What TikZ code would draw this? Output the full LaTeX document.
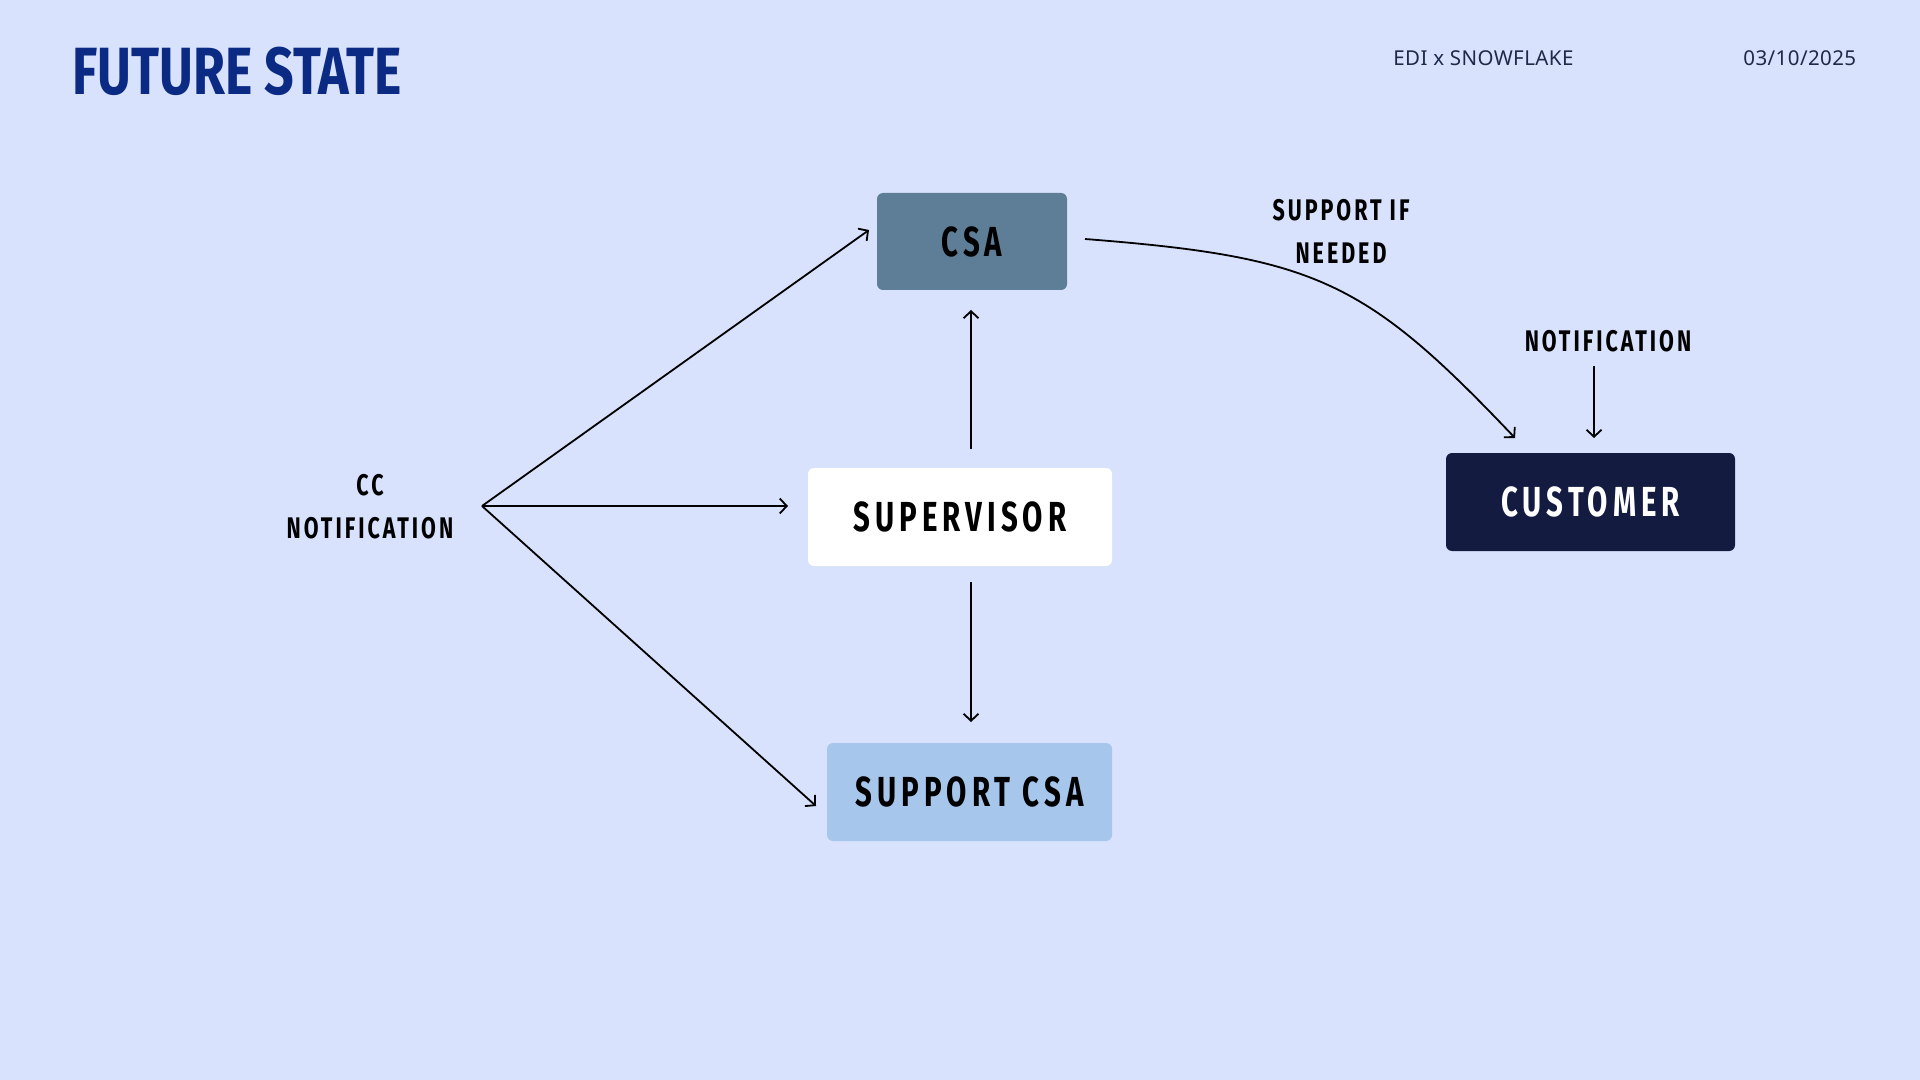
\documentclass[tikz,border=0pt]{standalone}
\usepackage{fontspec}
\usetikzlibrary{arrows.meta}
\newfontfamily\dispfont[FakeStretch=0.7,LetterSpace=12]{Fira Sans}
\newfontfamily\lblfam[FakeStretch=0.72,LetterSpace=10]{Fira Sans}
\newfontfamily\ttlfont[FakeStretch=0.776]{Fira Sans}
\newfontfamily\hdrfont[LetterSpace=2]{Noto Sans}
\newcommand\myboxfont{\dispfont\bfseries\fontsize{21}{25}\selectfont}
\newcommand\mylblfont{\lblfam\bfseries\fontsize{14.9}{21.5}\selectfont}
\definecolor{bgc}{HTML}{D8E2FC}
\definecolor{csac}{HTML}{5E7D96}
\definecolor{supc}{HTML}{A7C6EC}
\definecolor{custc}{HTML}{131B40}
\definecolor{ttlc}{HTML}{0B2A84}
\definecolor{hdrc}{HTML}{1E2A4A}
\begin{document}
\begin{tikzpicture}[x=0.5pt,y=-0.5pt,
  conn/.style={draw=black, line width=0.9pt, -{Straight Barb[length=3.5pt,width=7.5pt]}},
  box/.style={rectangle, rounded corners=3pt, inner sep=0pt, text=black, font=\myboxfont},
  lbl/.style={font=\mylblfont, align=center, inner sep=0pt, text=black},
  hdr/.style={anchor=base west, inner sep=0pt, text=hdrc, font=\hdrfont\fontsize{10.25}{12}\selectfont}]
\fill[bgc] (0,0) rectangle (1920,1080);
\useasboundingbox (0,0) rectangle (1920,1080);
% header
\node[anchor=base west, inner sep=0pt, text=ttlc, font=\ttlfont\bfseries\fontsize{33.4}{40}\selectfont] (title) at (72,95) {FUTURE STATE};
\node[hdr] (edi) at (1393,66) {EDI x SNOWFLAKE};
\node[hdr] (date) at (1743,66) {03/10/2025};
% boxes
\node[box, fill=csac, minimum width=95pt, minimum height=48.5pt] (csa) at (972,241.5) {CSA};
\node[box, fill=white, minimum width=152pt, minimum height=49pt] (sup) at (960,517) {SUPERVISOR};
\node[box, fill=supc, minimum width=142.5pt, minimum height=49pt] (scsa) at (969.5,792) {SUPPORT CSA};
\node[box, fill=custc, text=white, minimum width=144.5pt, minimum height=49pt] (cust) at (1590.5,502) {CUSTOMER};
% labels
\node[lbl] (cc) at (370,506.5) {CC\\NOTIFICATION};
\node[lbl] (sin) at (1341,231) {SUPPORT IF\\NEEDED};
\node[lbl, anchor=base] (notif) at (1608,351) {NOTIFICATION};
% connector ends
\coordinate (apex) at (482,506);
\coordinate (csaIn) at (869,230);
\coordinate (supIn) at (788,506);
\coordinate (scsaIn) at (816,806);
\coordinate (supTop) at (971,449);
\coordinate (csaBot) at (971,310);
\coordinate (supBot) at (971,582);
\coordinate (scsaTop) at (971,722);
\coordinate (csaOut) at (1085,239);
\coordinate (custIn) at (1515,438);
\coordinate (notifOut) at (1594,366);
\coordinate (custTop) at (1594,438);
% connectors
\draw[conn] (apex) -- (csaIn);
\draw[conn] (apex) -- (supIn);
\draw[conn] (apex) -- (scsaIn);
\draw[conn] (supTop) -- (csaBot);
\draw[conn] (supBot) -- (scsaTop);
\draw[conn] (csaOut) .. controls (1315,257) and (1365,280) .. (custIn);
\draw[conn] (notifOut) -- (custTop);
\end{tikzpicture}
\end{document}
